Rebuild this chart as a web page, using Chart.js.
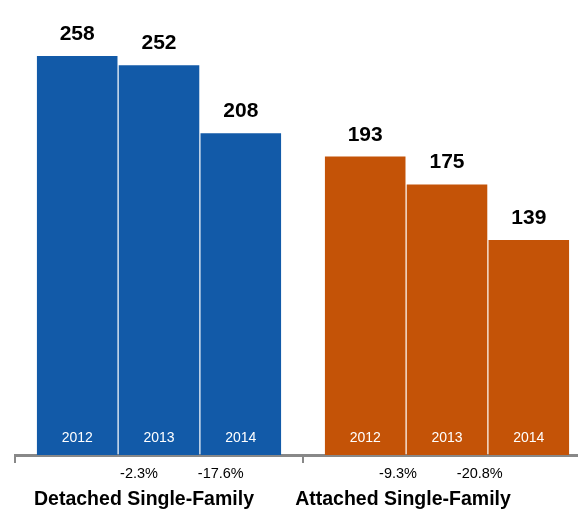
<!DOCTYPE html>
<html>
<head>
<meta charset="utf-8">
<script src="https://cdn.jsdelivr.net/npm/chart.js@4/dist/chart.umd.min.js"></script>
<style>
  html, body { margin: 0; padding: 0; background: #fff; overflow: hidden; }
  #wrap { width: 578px; height: 514px; overflow: hidden; }
</style>
</head>
<body>
<div id="wrap">
  <canvas id="chart" width="600" height="514"></canvas>
</div>
<script>
const groups = ["Detached Single-Family", "Attached Single-Family"];
const years = ["2012", "2013", "2014"];
const sales2012 = [258, 193];
const sales2013 = [252, 175];
const sales2014 = [208, 139];
const change2013 = ["-2.3%", "-9.3%"];
const change2014 = ["-17.6%", "-20.8%"];

const groupColors = ["#125aa8", "#c45307"];
const FONT = "'Liberation Sans', Helvetica, Arial, sans-serif";

// labels under the axis sit a bit left of the bars in each group
const changeShift = [-20, -49];
const groupShift = [-15, -44];

const yearValues = [sales2012, sales2013, sales2014];
const changes = [null, change2013, change2014];

const labelPlugin = {
  id: "barLabels",
  afterDatasetsDraw(chart) {
    const ctx = chart.ctx;
    const xScale = chart.scales.x;
    ctx.save();
    ctx.textAlign = "center";
    chart.data.datasets.forEach((ds, d) => {
      const meta = chart.getDatasetMeta(d);
      meta.data.forEach((bar, g) => {
        // value above the bar
        ctx.fillStyle = "#000";
        ctx.font = "bold 21px " + FONT;
        ctx.textBaseline = "alphabetic";
        ctx.fillText(String(ds.data[g]), bar.x, bar.y - 16);
        // year inside the bar
        ctx.fillStyle = "#fff";
        ctx.font = "14px " + FONT;
        ctx.textBaseline = "middle";
        ctx.fillText(years[d], bar.x, 438);
        // change vs previous year
        if (changes[d]) {
          ctx.fillStyle = "#000";
          ctx.font = "14.5px " + FONT;
          ctx.fillText(changes[d][g], bar.x + changeShift[g], 474);
        }
      });
    });
    ctx.fillStyle = "#000";
    ctx.font = "bold 19.5px " + FONT;
    ctx.textBaseline = "alphabetic";
    groups.forEach((name, g) => {
      ctx.fillText(name, xScale.getPixelForValue(g) + groupShift[g], 505);
    });
    ctx.restore();
  }
};

new Chart(document.getElementById("chart"), {
  type: "bar",
  data: {
    labels: groups,
    datasets: yearValues.map((vals, i) => ({
      label: years[i],
      data: vals,
      backgroundColor: groupColors,
      borderWidth: 0,
      barPercentage: 0.985,
      categoryPercentage: 0.852
    }))
  },
  options: {
    responsive: false,
    animation: false,
    layout: { padding: { top: 22, left: 15, right: 9, bottom: 51 } },
    plugins: {
      legend: { display: false },
      tooltip: { enabled: false }
    },
    scales: {
      x: {
        offset: true,
        ticks: { display: false },
        grid: {
          offset: true,
          drawOnChartArea: false,
          drawTicks: true,
          tickLength: 8,
          color: "#888",
          lineWidth: 2
        },
        border: { display: true, color: "#888", width: 3 }
      },
      y: {
        display: false,
        min: 0,
        max: 280
      }
    }
  },
  plugins: [labelPlugin]
});
</script>
</body>
</html>
